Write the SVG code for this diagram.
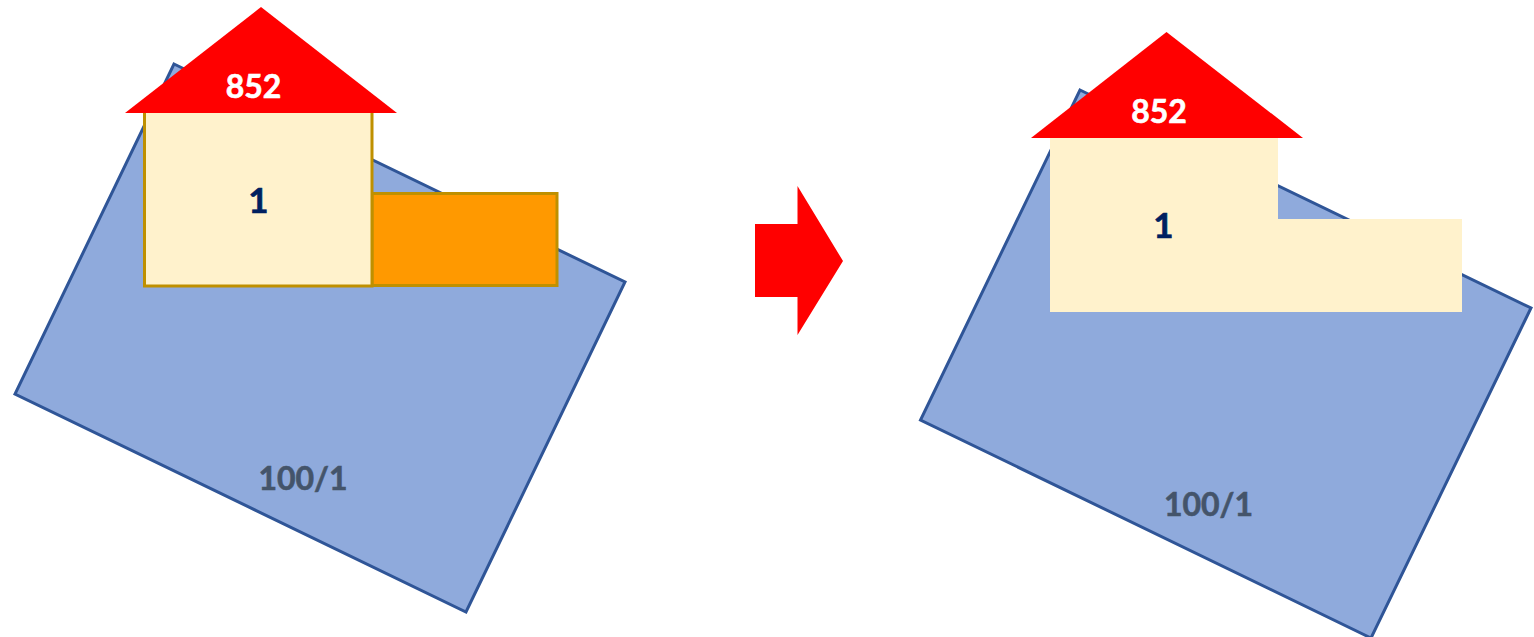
<svg xmlns="http://www.w3.org/2000/svg" width="1534" height="637" viewBox="0 0 1534 637">
<style>
.plate{fill:#8faadc;stroke:#2f5597;stroke-width:3}
.roof{fill:#ff0000}
.room{fill:#fff2cc}
.outl{stroke:#bf9000;stroke-width:3}
text{font-family:"Lato","Open Sans","Liberation Sans",sans-serif;font-weight:700;font-size:32px;text-anchor:middle;stroke-width:0.6px}
.w{fill:#ffffff;stroke:#ffffff}.n{fill:#002060;stroke:#002060;font-size:35px}.g{fill:#44546a;stroke:#44546a}
</style>
<rect width="1534" height="637" fill="#ffffff"/>
<g id="before">
<g id="plate-left"><polygon class="plate" points="174,64 625,282 466,612 15,394"/><text class="g" x="303" y="490">100/1</text></g>
<g id="orange-left"><rect x="372" y="193.500" width="185" height="92" fill="#ff9900" class="outl"/></g>
<g id="room-left"><rect x="144.500" y="110" width="227.500" height="176" class="room outl"/><text class="n" x="258.500" y="212.500">1</text></g>
<g id="roof-left"><polygon class="roof" points="261,7 397,113 125,113"/><text class="w" x="253.500" y="97.500">852</text></g>
</g>
<g id="arrow"><polygon fill="#ff0000" points="755,224 797.500,224 797.500,186 843,261 797.500,335 797.500,297 755,297"/></g>
<g id="after">
<g id="plate-right"><polygon class="plate" points="1080,90 1531,308 1371,638 920.500,420"/><text class="g" x="1208.500" y="516">100/1</text></g>
<g id="room-right"><polygon class="room" points="1050,138 1278,138 1278,219 1462,219 1462,312 1050,312"/><text class="n" x="1163.500" y="237.500">1</text></g>
<g id="roof-right"><polygon class="roof" points="1166.500,32 1303,138 1031,138"/><text class="w" x="1159" y="123">852</text></g>
</g>
</svg>
